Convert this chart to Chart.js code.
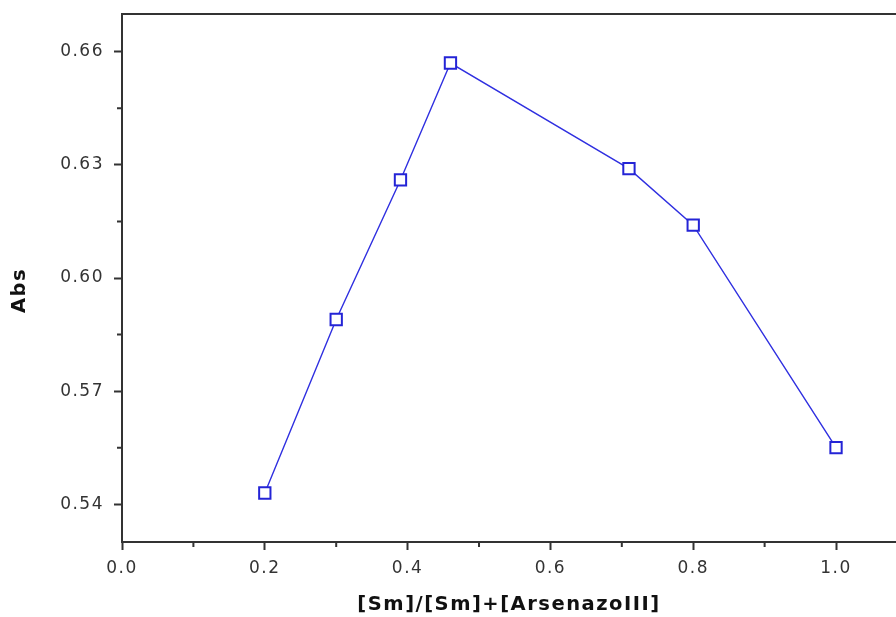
<!DOCTYPE html>
<html><head><meta charset="utf-8">
<script src="https://cdn.jsdelivr.net/npm/chart.js@4.4.1/dist/chart.umd.min.js"></script>
<style>html,body{margin:0;padding:0;background:#fff}#wrap{width:896px;height:617px;position:relative}</style>
</head><body><div id="wrap"><canvas id="c"></canvas></div>
<script>
const ratioValues = [0.2, 0.3, 0.39, 0.46, 0.71, 0.8, 1.0];
const absValues = [0.543, 0.589, 0.626, 0.657, 0.629, 0.614, 0.555];
const xMajorTicks = [0.0, 0.2, 0.4, 0.6, 0.8, 1.0];
const xMinorTicks = [0.1, 0.3, 0.5, 0.7, 0.9];
const yMajorTicks = [0.54, 0.57, 0.60, 0.63, 0.66];
const yMinorTicks = [0.555, 0.585, 0.615, 0.645];
const xTitle = '[Sm]/[Sm]+[ArsenazoIII]';
const yTitle = 'Abs';

const AXIS = '#333333';
const SPACING = '1.5px';

const framePlugin = {
  id: 'frame',
  beforeUpdate(chart) { chart.ctx.letterSpacing = SPACING; },
  beforeLayout(chart) { chart.ctx.letterSpacing = SPACING; },
  beforeDraw(chart) { chart.ctx.letterSpacing = SPACING; },
  afterDraw(chart) {
    const {ctx, chartArea: a, scales: {x, y}} = chart;
    ctx.save();
    ctx.strokeStyle = AXIS;
    ctx.lineWidth = 2;
    ctx.beginPath();
    ctx.moveTo(a.left - 1, a.top);
    ctx.lineTo(a.right, a.top);
    ctx.stroke();
    ctx.beginPath();
    xMinorTicks.forEach(v => {
      const px = x.getPixelForValue(v);
      ctx.moveTo(px, a.bottom); ctx.lineTo(px, a.bottom + 5);
    });
    yMinorTicks.forEach(v => {
      const py = y.getPixelForValue(v);
      ctx.moveTo(a.left, py); ctx.lineTo(a.left - 5, py);
    });
    ctx.stroke();
    ctx.restore();
  }
};

const points = ratioValues.map((v, i) => ({x: v, y: absValues[i]}));

new Chart(document.getElementById('c'), {
  type: 'line',
  data: {
    datasets: [{
      data: points,
      borderColor: '#2f2fe0',
      borderWidth: 1.4,
      pointStyle: 'rect',
      pointRadius: 8,
      pointHoverRadius: 8,
      pointBorderWidth: 2,
      pointBorderColor: '#2424d6',
      pointBackgroundColor: '#ffffff',
      tension: 0
    }]
  },
  options: {
    responsive: true,
    maintainAspectRatio: false,
    animation: false,
    events: [],
    layout: {padding: {left: 0, right: 0, top: 14, bottom: 0}, autoPadding: false},
    plugins: {legend: {display: false}, tooltip: {enabled: false}},
    scales: {
      x: {
        type: 'linear',
        min: 0,
        max: 1.084,
        afterBuildTicks: s => { s.ticks = xMajorTicks.map(v => ({value: v})); },
        afterFit: s => { s.height = 75; s.paddingLeft = 0; s.paddingRight = 0; },
        border: {display: true, color: AXIS, width: 2},
        grid: {display: true, drawOnChartArea: false, drawTicks: true, tickLength: 8, tickWidth: 2, tickColor: AXIS, color: AXIS},
        ticks: {
          color: AXIS, padding: 8,
          font: {family: 'DejaVu Sans', size: 17},
          callback: v => Number(v).toFixed(1),
          maxRotation: 0, autoSkip: false
        },
        title: {
          display: true, text: xTitle, color: '#111111',
          font: {family: 'DejaVu Sans', size: 19.5, weight: 'bold'},
          padding: {top: 2, bottom: 0}
        }
      },
      y: {
        type: 'linear',
        min: 0.53,
        max: 0.67,
        afterBuildTicks: s => { s.ticks = yMajorTicks.map(v => ({value: v})); },
        afterFit: s => { s.width = 122; s.paddingTop = 0; s.paddingBottom = 0; },
        border: {display: true, color: AXIS, width: 2},
        grid: {display: true, drawOnChartArea: false, drawTicks: true, tickLength: 8, tickWidth: 2, tickColor: AXIS, color: AXIS},
        ticks: {
          color: AXIS, padding: 10,
          font: {family: 'DejaVu Sans', size: 17},
          callback: v => Number(v).toFixed(2),
          autoSkip: false
        },
        title: {
          display: true, text: yTitle + '   ', color: '#111111',
          font: {family: 'DejaVu Sans', size: 19.5, weight: 'bold'},
          padding: {top: 8, bottom: 0}
        }
      }
    }
  },
  plugins: [framePlugin]
});
</script>
</body></html>
